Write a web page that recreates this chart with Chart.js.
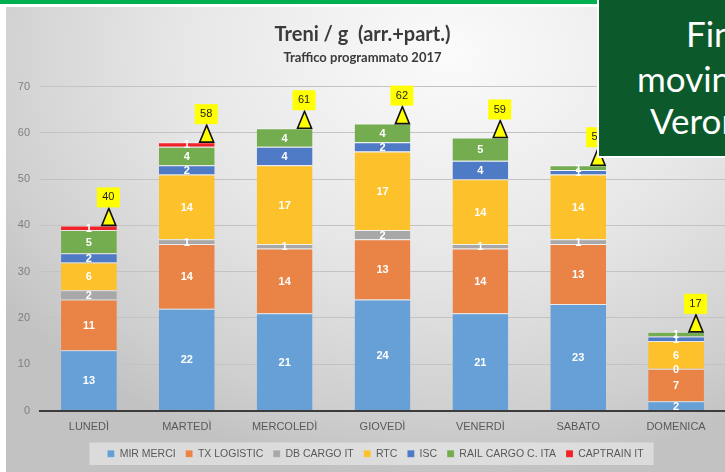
<!DOCTYPE html>
<html>
<head>
<meta charset="utf-8">
<script src="https://cdn.jsdelivr.net/npm/chart.js@4"></script>
<style>
  html, body { margin: 0; padding: 0; background: #fff; overflow: hidden; }
  #wrap { position: relative; width: 725px; height: 472px; overflow: hidden; }
  #topline { position: absolute; left: 0; top: 0; width: 600px; height: 4px; background: #00b050; }
  #panel {
    position: absolute; left: 6px; top: 7px; width: 740px; height: 470px;
    background: radial-gradient(ellipse 75% 90% at 60% 10%, #fbfbfb 0%, #e6e6e6 50%, #cfcfcf 85%, #c2c2c2 100%);
  }
  #chart { position: absolute; left: 0; top: 0; }
  #box {
    position: absolute; left: 597px; top: -2px; width: 200px; height: 156px;
    background: #0c5a2b; border: 2px solid #fff;
    font-family: Lato, "Open Sans", sans-serif; color: #fff; font-size: 35px; line-height: 35px;
  }
  #box span { position: absolute; white-space: nowrap; }
</style>
</head>
<body>
<div id="wrap">
  <div id="topline"></div>
  <div id="panel"></div>
  <canvas id="chart" width="725" height="472"></canvas>
  <div id="box">
    <span style="left:87px; top:16px">Finalità</span>
    <span style="left:38px; top:61px">moving</span>
    <span style="left:51px; top:103px">Verona</span>
  </div>
</div>
<script>
const days = ["LUNEDÌ", "MARTEDÌ", "MERCOLEDÌ", "GIOVEDÌ", "VENERDÌ", "SABATO", "DOMENICA"];
const mirMerci = [13, 22, 21, 24, 21, 23, 2];
const txLogistic = [11, 14, 14, 13, 14, 13, 7];
const dbCargo = [2, 1, 1, 2, 1, 1, 0];
const rtc = [6, 14, 17, 17, 14, 14, 6];
const isc = [2, 2, 4, 2, 4, 1, 1];
const railCargo = [5, 4, 4, 4, 5, 1, 1];
const captrain = [1, 1, null, null, null, null, null];
const yTicks = [0, 10, 20, 30, 40, 50, 60, 70];

const series = [
  { label: "MIR MERCI", data: mirMerci, color: "#66a0d7" },
  { label: "TX LOGISTIC", data: txLogistic, color: "#ea8446" },
  { label: "DB CARGO IT", data: dbCargo, color: "#a8a8a8" },
  { label: "RTC", data: rtc, color: "#fcc12b" },
  { label: "ISC", data: isc, color: "#4f7bc6" },
  { label: "RAIL CARGO C. ITA", data: railCargo, color: "#74ad4f" },
  { label: "CAPTRAIN IT", data: captrain, color: "#f2222a" },
];
const totals = days.map((d, i) => series.reduce((s, x) => s + (x.data[i] || 0), 0));

const FONT = "'Liberation Sans Narrow', 'Liberation Sans', sans-serif";
const LEGEND_SHIFT = 13;

// white numbers inside each segment
const segLabels = {
  id: "segLabels",
  afterDatasetsDraw(chart) {
    const ctx = chart.ctx;
    ctx.save();
    ctx.fillStyle = "#fff";
    ctx.font = "bold 11px " + FONT;
    ctx.textAlign = "center";
    ctx.textBaseline = "middle";
    chart.data.datasets.forEach((ds, di) => {
      chart.getDatasetMeta(di).data.forEach((el, i) => {
        const v = ds.data[i];
        if (v === null || v === undefined) return;
        ctx.fillText(String(v), el.x, (el.y + el.base) / 2 + 1);
      });
    });
    ctx.restore();
  },
};

// yellow triangle + total box above each bar
const totalMarks = {
  id: "totalMarks",
  afterDatasetsDraw(chart) {
    const ctx = chart.ctx;
    const x = chart.scales.x, y = chart.scales.y;
    const el0 = chart.getDatasetMeta(0).data[0];
    const half = el0.width / 2;
    ctx.save();
    totals.forEach((t, i) => {
      const xr = x.getPixelForValue(i) + half;
      const yt = y.getPixelForValue(t);
      ctx.beginPath();
      ctx.moveTo(xr - 15, yt);
      ctx.lineTo(xr - 1, yt);
      ctx.lineTo(xr - 8, yt - 17);
      ctx.closePath();
      ctx.fillStyle = "#ffff00";
      ctx.fill();
      ctx.lineWidth = 1.6;
      ctx.strokeStyle = "#111";
      ctx.stroke();
      ctx.fillStyle = "#ffff00";
      ctx.fillRect(xr - 20, yt - 38, 23, 20);
      ctx.fillStyle = "#222";
      ctx.font = "11px " + FONT;
      ctx.textAlign = "center";
      ctx.textBaseline = "middle";
      ctx.fillText(String(t), xr - 8.5, yt - 28);
    });
    ctx.restore();
  },
};

// nudge the legend right, then a light box behind it
const legendBg = {
  id: "legendBg",
  afterLayout(chart) {
    const lg = chart.legend;
    if (!lg) return;
    lg.left += LEGEND_SHIFT;
    lg.right += LEGEND_SHIFT;
    (lg.legendHitBoxes || []).forEach((h) => { h.left += LEGEND_SHIFT; });
  },
  beforeDraw(chart) {
    const hb = chart.legend && chart.legend.legendHitBoxes;
    if (!hb || !hb.length) return;
    const a = hb[0], b = hb[hb.length - 1];
    const ctx = chart.ctx;
    ctx.save();
    ctx.fillStyle = "rgba(240,240,240,0.55)";
    ctx.fillRect(a.left - 18, a.top - 6, b.left + b.width - a.left + 28, a.height + 12);
    ctx.restore();
  },
};

new Chart(document.getElementById("chart"), {
  type: "bar",
  data: {
    labels: days,
    datasets: series.map((s) => ({
      label: s.label,
      data: s.data,
      backgroundColor: s.color,
      borderColor: "rgba(255,255,255,0.45)",
      borderWidth: { top: 1, left: 0, right: 0, bottom: 0 },
      borderSkipped: false,
      barPercentage: 0.57,
      categoryPercentage: 1,
    })),
  },
  options: {
    responsive: false,
    animation: false,
    layout: { padding: { top: 23, left: 0, right: 0, bottom: 3 } },
    scales: {
      x: {
        stacked: true,
        grid: { display: false },
        border: { display: true, color: "#3c3c3c", width: 2 },
        ticks: { color: "#595959", font: { family: FONT, size: 11 }, padding: 2 },
        afterFit(s) { s.height = 28; },
      },
      y: {
        stacked: true,
        min: 0,
        max: 70,
        afterBuildTicks(s) { s.ticks = yTicks.map((v) => ({ value: v })); },
        grid: { color: "#c3c3c3", drawTicks: false },
        border: { display: false },
        ticks: { color: "#7f7f7f", font: { family: FONT, size: 11 }, padding: 10 },
        afterFit(s) { s.width = 40; },
      },
    },
    plugins: {
      title: {
        display: true,
        text: "Treni / g  (arr.+part.)",
        color: "#3a3a3a",
        font: { family: "Lato, sans-serif", size: 20, weight: "bold" },
        padding: { top: 0, bottom: 0 },
      },
      subtitle: {
        display: true,
        text: "Traffico programmato 2017",
        color: "#3a3a3a",
        font: { family: "Lato, sans-serif", size: 13, weight: "bold" },
        padding: { top: 3, bottom: 21 },
      },
      legend: {
        position: "bottom",
        labels: {
          color: "#595959",
          font: { family: FONT, size: 10.5 },
          boxWidth: 7,
          boxHeight: 7,
          padding: 10,
        },
      },
      tooltip: { enabled: false },
    },
  },
  plugins: [legendBg, segLabels, totalMarks],
});
</script>
</body>
</html>
